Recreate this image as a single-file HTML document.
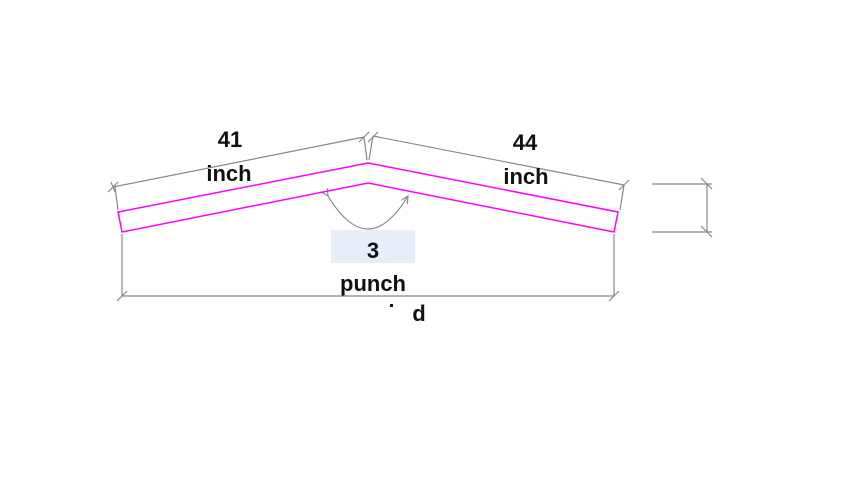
<!DOCTYPE html>
<html><head><meta charset="utf-8"><style>
html,body{margin:0;padding:0;background:#fff;width:848px;height:479px;overflow:hidden}
text{font-family:"Liberation Sans",sans-serif;font-weight:bold;fill:#111}
</style></head><body>
<svg width="848" height="479" viewBox="0 0 848 479">
<defs><marker id="ah" markerWidth="8" markerHeight="8" refX="6" refY="3" orient="auto"><path d="M0,0 L6,3 L0,6" fill="none" stroke="#888" stroke-width="1"/></marker></defs>
<g stroke="#888" stroke-width="1.2" fill="none">
<line x1="113" y1="187" x2="364" y2="137"/>
<line x1="373" y1="136" x2="624" y2="185"/>
<line x1="108" y1="192" x2="118" y2="182"/><line x1="111" y1="182" x2="115" y2="192"/>
<line x1="359" y1="142" x2="369" y2="132"/><line x1="368" y1="142" x2="378" y2="132"/>
<line x1="619" y1="190" x2="629" y2="180"/>
<line x1="364" y1="137" x2="367" y2="160"/><line x1="373" y1="136" x2="369" y2="160"/>
<line x1="115" y1="187" x2="118" y2="210"/><line x1="624" y1="185" x2="620" y2="210"/>
<line x1="122" y1="234" x2="122" y2="296"/><line x1="614" y1="234" x2="614" y2="296"/>
<line x1="122" y1="296" x2="614" y2="296"/>
<line x1="117" y1="301" x2="127" y2="291"/><line x1="609" y1="301" x2="619" y2="291"/>
<line x1="652" y1="184" x2="712" y2="184"/><line x1="652" y1="232" x2="712" y2="232"/>
<line x1="707" y1="184" x2="707" y2="232"/>
<line x1="701" y1="178" x2="712" y2="189"/><line x1="701" y1="226" x2="712" y2="237"/>
<path d="M328,196 Q368,262 408,196" marker-start="url(#ah)" marker-end="url(#ah)"/>
</g>
<polygon points="118,212 368,163 618,212 614,232 368,183 122,232" fill="none" stroke="#ff00ff" stroke-width="1.5"/>
<rect x="331" y="230" width="84" height="33" fill="#e6eefa"/>
<text x="230" y="147" font-size="22" text-anchor="middle">41</text>
<text x="229" y="181" font-size="22" text-anchor="middle">inch</text>
<text x="525" y="150" font-size="22" text-anchor="middle">44</text>
<text x="526" y="184" font-size="22" text-anchor="middle">inch</text>
<text x="373" y="258" font-size="22" text-anchor="middle">3</text>
<text x="373" y="291" font-size="22" text-anchor="middle">punch</text>
<g><rect x="390" y="304" width="3" height="3" fill="#111"/>
<text x="419" y="323" font-size="22" text-anchor="middle" transform="rotate(180 419 316)">p</text></g>
</svg>
</body></html>
